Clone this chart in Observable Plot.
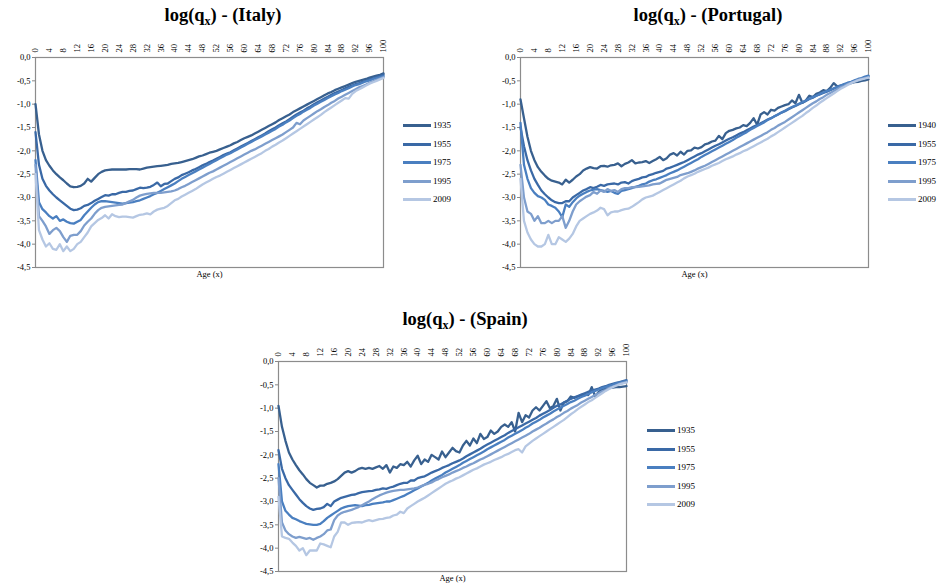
<!DOCTYPE html>
<html><head><meta charset="utf-8">
<script src="https://cdn.jsdelivr.net/npm/d3@7"></script>
<script src="https://cdn.jsdelivr.net/npm/@observablehq/plot@0.6"></script>
<style>
body{margin:0;background:#fff;width:944px;height:586px;position:relative;overflow:hidden;font-family:"Liberation Serif","Times New Roman",serif;color:#000;}
.title{position:absolute;font-weight:bold;font-size:18.5px;white-space:nowrap;transform:translateX(-50%);line-height:20px;}
.title sub{font-size:12px;vertical-align:-4px;line-height:0;}
.legrow{position:absolute;font-size:9px;line-height:10px;height:10px;white-space:nowrap;}
.legrow span.sw{position:absolute;left:0;top:4px;width:28px;height:3px;}
.legrow span.lb{position:absolute;left:30px;top:0;}
svg.panel{position:absolute;}
</style>
</head><body>
<script>
// ---------------- DATA ----------------
const ages = d3.range(0, 101); // 0..100
const xTicks = [0,4,8,12,16,20,24,28,32,36,40,44,48,52,56,60,64,68,72,76,80,84,88,92,96,100];
const yTicks = [0,-0.5,-1,-1.5,-2,-2.5,-3,-3.5,-4,-4.5];
const seriesColors = ["#38608f","#3a69a6","#4a7fc0","#7e9ecd","#b5c7e3"];

const italyYears = ["1935","1955","1975","1995","2009"];
const italy1935 = [-1.00,-1.65,-2.00,-2.20,-2.32,-2.42,-2.50,-2.57,-2.63,-2.70,
 -2.76,-2.78,-2.77,-2.75,-2.70,-2.60,-2.66,-2.58,-2.50,-2.45,
 -2.42,-2.41,-2.40,-2.40,-2.40,-2.40,-2.40,-2.39,-2.39,-2.39,
 -2.40,-2.38,-2.36,-2.35,-2.34,-2.33,-2.32,-2.31,-2.30,-2.28,
 -2.27,-2.26,-2.24,-2.22,-2.20,-2.18,-2.15,-2.12,-2.10,-2.07,
 -2.04,-2.02,-2.00,-1.97,-1.94,-1.91,-1.88,-1.84,-1.81,-1.77,
 -1.73,-1.70,-1.67,-1.63,-1.59,-1.55,-1.51,-1.47,-1.43,-1.39,
 -1.34,-1.30,-1.26,-1.22,-1.17,-1.13,-1.09,-1.05,-1.01,-0.97,
 -0.93,-0.89,-0.85,-0.81,-0.77,-0.74,-0.70,-0.67,-0.64,-0.61,
 -0.58,-0.55,-0.52,-0.50,-0.48,-0.46,-0.43,-0.41,-0.39,-0.37,-0.34];
const italy1955 = [-1.60,-2.30,-2.60,-2.75,-2.85,-2.93,-3.00,-3.06,-3.12,-3.18,
 -3.24,-3.27,-3.26,-3.23,-3.18,-3.16,-3.12,-3.07,-3.03,-2.99,
 -2.95,-2.96,-2.93,-2.93,-2.90,-2.88,-2.88,-2.86,-2.85,-2.82,
 -2.79,-2.80,-2.79,-2.77,-2.73,-2.68,-2.76,-2.71,-2.70,-2.65,
 -2.60,-2.57,-2.52,-2.49,-2.46,-2.42,-2.39,-2.35,-2.31,-2.28,
 -2.24,-2.21,-2.17,-2.13,-2.09,-2.06,-2.03,-1.99,-1.95,-1.91,
 -1.87,-1.83,-1.79,-1.75,-1.71,-1.67,-1.63,-1.58,-1.54,-1.50,
 -1.45,-1.41,-1.37,-1.32,-1.27,-1.22,-1.18,-1.14,-1.09,-1.05,
 -1.00,-0.96,-0.92,-0.88,-0.84,-0.80,-0.76,-0.73,-0.70,-0.66,
 -0.63,-0.60,-0.57,-0.55,-0.52,-0.50,-0.47,-0.45,-0.42,-0.40,-0.37];
const italy1975 = [-2.20,-3.10,-3.25,-3.32,-3.40,-3.45,-3.40,-3.50,-3.47,-3.52,
 -3.55,-3.56,-3.52,-3.48,-3.38,-3.30,-3.22,-3.15,-3.10,-3.08,
 -3.08,-3.09,-3.10,-3.11,-3.12,-3.13,-3.12,-3.11,-3.10,-3.08,
 -3.06,-3.03,-3.00,-2.97,-2.93,-2.90,-2.86,-2.82,-2.78,-2.74,
 -2.70,-2.65,-2.60,-2.56,-2.52,-2.48,-2.44,-2.40,-2.36,-2.32,
 -2.28,-2.24,-2.20,-2.16,-2.12,-2.08,-2.05,-2.01,-1.97,-1.93,
 -1.89,-1.85,-1.81,-1.77,-1.73,-1.69,-1.65,-1.61,-1.57,-1.53,
 -1.48,-1.44,-1.39,-1.35,-1.30,-1.25,-1.21,-1.16,-1.12,-1.08,
 -1.03,-0.99,-0.95,-0.91,-0.87,-0.83,-0.79,-0.76,-0.72,-0.69,
 -0.66,-0.62,-0.59,-0.57,-0.54,-0.51,-0.49,-0.46,-0.44,-0.42,-0.40];
const italy1995 = [-2.30,-3.40,-3.50,-3.62,-3.78,-3.70,-3.65,-3.72,-3.85,-3.95,
 -3.82,-3.80,-3.80,-3.72,-3.60,-3.52,-3.45,-3.35,-3.27,-3.22,
 -3.20,-3.19,-3.18,-3.17,-3.16,-3.15,-3.12,-3.08,-3.05,-3.00,
 -2.96,-2.94,-2.92,-2.91,-2.90,-2.90,-2.90,-2.89,-2.88,-2.87,
 -2.85,-2.82,-2.78,-2.75,-2.71,-2.67,-2.63,-2.59,-2.55,-2.51,
 -2.47,-2.44,-2.40,-2.36,-2.32,-2.28,-2.24,-2.20,-2.16,-2.12,
 -2.08,-2.04,-2.00,-1.97,-1.93,-1.89,-1.85,-1.81,-1.77,-1.73,
 -1.69,-1.65,-1.60,-1.55,-1.50,-1.40,-1.43,-1.35,-1.30,-1.25,
 -1.20,-1.15,-1.11,-1.06,-1.02,-0.97,-0.93,-0.88,-0.84,-0.80,
 -0.76,-0.72,-0.68,-0.64,-0.61,-0.58,-0.54,-0.51,-0.48,-0.45,-0.42];
const italy2009 = [-2.50,-3.70,-3.90,-4.05,-3.98,-4.10,-4.12,-4.00,-4.15,-4.05,
 -4.15,-4.10,-4.00,-3.95,-3.85,-3.75,-3.62,-3.55,-3.48,-3.44,
 -3.38,-3.45,-3.36,-3.40,-3.42,-3.41,-3.41,-3.42,-3.43,-3.40,
 -3.37,-3.36,-3.34,-3.36,-3.30,-3.26,-3.24,-3.22,-3.18,-3.12,
 -3.06,-3.03,-2.98,-2.94,-2.90,-2.86,-2.82,-2.77,-2.72,-2.68,
 -2.64,-2.60,-2.56,-2.53,-2.49,-2.45,-2.41,-2.37,-2.33,-2.29,
 -2.25,-2.21,-2.17,-2.13,-2.09,-2.05,-2.00,-1.96,-1.91,-1.87,
 -1.82,-1.78,-1.73,-1.68,-1.63,-1.58,-1.53,-1.48,-1.43,-1.38,
 -1.33,-1.28,-1.23,-1.17,-1.12,-1.07,-1.02,-0.97,-0.92,-0.87,
 -0.88,-0.78,-0.72,-0.68,-0.64,-0.60,-0.56,-0.53,-0.50,-0.47,-0.44];

const portugalYears = ["1940","1955","1975","1995","2009"];
const portugal1940 = [-0.90,-1.30,-1.70,-2.00,-2.20,-2.35,-2.45,-2.53,-2.60,-2.64,
 -2.66,-2.68,-2.72,-2.62,-2.68,-2.62,-2.55,-2.50,-2.42,-2.38,
 -2.35,-2.37,-2.38,-2.33,-2.32,-2.34,-2.31,-2.30,-2.27,-2.33,
 -2.28,-2.25,-2.20,-2.27,-2.25,-2.24,-2.22,-2.26,-2.22,-2.18,
 -2.13,-2.20,-2.16,-2.08,-2.05,-2.10,-2.02,-2.08,-2.00,-1.99,
 -1.93,-1.95,-1.92,-1.86,-1.84,-1.80,-1.78,-1.68,-1.75,-1.62,
 -1.57,-1.55,-1.52,-1.50,-1.45,-1.47,-1.40,-1.30,-1.44,-1.22,
 -1.17,-1.22,-1.12,-1.14,-1.08,-1.05,-1.02,-1.00,-0.92,-0.98,
 -0.80,-0.97,-0.92,-0.82,-0.85,-0.78,-0.75,-0.70,-0.72,-0.65,
 -0.55,-0.62,-0.60,-0.58,-0.56,-0.55,-0.53,-0.52,-0.50,-0.49,-0.47];
const portugal1955 = [-1.50,-1.90,-2.20,-2.42,-2.60,-2.73,-2.85,-2.93,-3.00,-3.06,
 -3.10,-3.12,-3.12,-3.08,-3.08,-3.00,-2.95,-2.90,-2.85,-2.82,
 -2.78,-2.80,-2.77,-2.73,-2.75,-2.72,-2.71,-2.70,-2.72,-2.68,
 -2.67,-2.70,-2.65,-2.62,-2.60,-2.57,-2.56,-2.52,-2.50,-2.47,
 -2.45,-2.43,-2.38,-2.36,-2.33,-2.30,-2.27,-2.24,-2.20,-2.16,
 -2.12,-2.08,-2.05,-2.01,-1.97,-1.93,-1.89,-1.86,-1.82,-1.78,
 -1.74,-1.71,-1.67,-1.63,-1.60,-1.56,-1.52,-1.48,-1.45,-1.41,
 -1.37,-1.33,-1.30,-1.26,-1.22,-1.18,-1.15,-1.11,-1.07,-1.04,
 -1.00,-0.97,-0.93,-0.89,-0.86,-0.82,-0.79,-0.76,-0.73,-0.70,
 -0.67,-0.64,-0.61,-0.58,-0.56,-0.53,-0.50,-0.48,-0.45,-0.43,-0.40];
const portugal1975 = [-1.40,-2.30,-2.60,-2.80,-2.90,-2.97,-3.00,-3.05,-3.15,-3.18,
 -3.22,-3.30,-3.42,-3.15,-3.20,-3.10,-3.02,-2.96,-2.92,-2.88,
 -2.85,-2.83,-2.82,-2.84,-2.86,-2.88,-2.86,-2.90,-2.92,-2.86,
 -2.84,-2.82,-2.80,-2.77,-2.75,-2.72,-2.70,-2.66,-2.63,-2.61,
 -2.58,-2.55,-2.52,-2.48,-2.45,-2.42,-2.38,-2.34,-2.30,-2.26,
 -2.22,-2.18,-2.13,-2.09,-2.05,-2.01,-1.97,-1.93,-1.89,-1.85,
 -1.81,-1.77,-1.72,-1.68,-1.64,-1.60,-1.55,-1.51,-1.47,-1.43,
 -1.39,-1.34,-1.30,-1.26,-1.22,-1.18,-1.14,-1.10,-1.06,-1.03,
 -0.99,-0.96,-0.92,-0.88,-0.85,-0.82,-0.78,-0.75,-0.72,-0.69,
 -0.66,-0.63,-0.60,-0.57,-0.54,-0.52,-0.49,-0.46,-0.44,-0.41,-0.39];
const portugal1995 = [-2.30,-3.00,-3.30,-3.35,-3.50,-3.40,-3.55,-3.55,-3.50,-3.55,
 -3.50,-3.50,-3.40,-3.65,-3.50,-3.30,-3.15,-3.08,-3.03,-2.98,
 -2.95,-2.88,-2.92,-2.85,-2.88,-2.82,-2.86,-2.84,-2.88,-2.82,
 -2.80,-2.80,-2.78,-2.78,-2.77,-2.76,-2.75,-2.74,-2.72,-2.71,
 -2.70,-2.66,-2.62,-2.60,-2.58,-2.56,-2.52,-2.50,-2.48,-2.45,
 -2.42,-2.38,-2.35,-2.32,-2.28,-2.24,-2.20,-2.16,-2.12,-2.08,
 -2.04,-2.00,-1.96,-1.92,-1.88,-1.84,-1.80,-1.76,-1.72,-1.68,
 -1.64,-1.60,-1.55,-1.51,-1.46,-1.42,-1.38,-1.33,-1.28,-1.23,
 -1.18,-1.13,-1.08,-1.03,-0.98,-0.94,-0.89,-0.85,-0.80,-0.76,
 -0.72,-0.68,-0.64,-0.61,-0.57,-0.54,-0.51,-0.48,-0.46,-0.44,-0.42];
const portugal2009 = [-2.60,-3.50,-3.75,-3.90,-4.00,-4.05,-4.05,-4.00,-3.80,-4.00,
 -4.00,-3.85,-3.90,-3.95,-3.88,-3.78,-3.62,-3.50,-3.45,-3.40,
 -3.35,-3.32,-3.28,-3.22,-3.25,-3.38,-3.32,-3.30,-3.30,-3.27,
 -3.25,-3.24,-3.20,-3.15,-3.10,-3.04,-3.00,-2.98,-2.96,-2.92,
 -2.88,-2.84,-2.80,-2.76,-2.72,-2.68,-2.64,-2.59,-2.55,-2.52,
 -2.49,-2.45,-2.42,-2.39,-2.36,-2.32,-2.29,-2.26,-2.22,-2.18,
 -2.15,-2.12,-2.08,-2.05,-2.01,-1.98,-1.94,-1.90,-1.86,-1.82,
 -1.78,-1.74,-1.69,-1.65,-1.60,-1.55,-1.50,-1.45,-1.40,-1.35,
 -1.30,-1.25,-1.19,-1.14,-1.08,-1.03,-0.97,-0.92,-0.87,-0.82,
 -0.77,-0.72,-0.67,-0.63,-0.59,-0.55,-0.52,-0.49,-0.47,-0.45,-0.43];

const spainYears = ["1935","1955","1975","1995","2009"];
const spain1935 = [-0.95,-1.40,-1.70,-1.95,-2.10,-2.22,-2.33,-2.42,-2.52,-2.60,
 -2.65,-2.70,-2.66,-2.66,-2.62,-2.60,-2.57,-2.52,-2.45,-2.38,
 -2.35,-2.38,-2.35,-2.30,-2.28,-2.30,-2.28,-2.30,-2.27,-2.24,
 -2.30,-2.22,-2.38,-2.25,-2.28,-2.20,-2.22,-2.15,-2.25,-2.12,
 -2.02,-2.20,-2.10,-2.15,-2.00,-2.05,-2.10,-1.93,-2.05,-1.95,
 -1.85,-1.92,-1.95,-1.80,-1.70,-1.80,-1.65,-1.75,-1.55,-1.66,
 -1.62,-1.48,-1.55,-1.50,-1.40,-1.35,-1.40,-1.30,-1.50,-1.10,
 -1.30,-1.15,-1.20,-1.05,-0.98,-1.05,-0.95,-0.85,-1.00,-0.95,
 -0.80,-1.05,-0.88,-0.85,-0.75,-0.78,-0.75,-0.72,-0.70,-0.72,
 -0.55,-0.75,-0.65,-0.60,-0.58,-0.57,-0.56,-0.55,-0.55,-0.54,-0.53];
const spain1955 = [-1.90,-2.30,-2.50,-2.65,-2.75,-2.85,-2.95,-3.03,-3.10,-3.15,
 -3.18,-3.16,-3.15,-3.12,-3.05,-3.10,-3.00,-2.96,-2.92,-2.90,
 -2.88,-2.86,-2.85,-2.82,-2.80,-2.79,-2.78,-2.77,-2.75,-2.74,
 -2.72,-2.73,-2.70,-2.68,-2.65,-2.62,-2.60,-2.60,-2.55,-2.55,
 -2.50,-2.48,-2.46,-2.42,-2.38,-2.35,-2.32,-2.28,-2.25,-2.22,
 -2.18,-2.15,-2.12,-2.08,-2.03,-1.99,-1.95,-1.91,-1.87,-1.82,
 -1.78,-1.74,-1.70,-1.66,-1.62,-1.58,-1.53,-1.49,-1.45,-1.41,
 -1.37,-1.33,-1.29,-1.25,-1.21,-1.16,-1.12,-1.08,-1.04,-0.99,
 -0.95,-0.92,-0.88,-0.84,-0.80,-0.77,-0.74,-0.71,-0.68,-0.65,
 -0.62,-0.60,-0.58,-0.55,-0.53,-0.50,-0.48,-0.46,-0.44,-0.42,-0.40];
const spain1975 = [-2.20,-3.00,-3.20,-3.28,-3.35,-3.38,-3.42,-3.45,-3.48,-3.49,
 -3.50,-3.50,-3.48,-3.42,-3.35,-3.30,-3.25,-3.20,-3.15,-3.12,
 -3.10,-3.09,-3.08,-3.09,-3.10,-3.08,-3.07,-3.05,-3.04,-3.03,
 -3.02,-3.00,-3.00,-2.97,-2.94,-2.91,-2.88,-2.84,-2.80,-2.76,
 -2.72,-2.68,-2.64,-2.60,-2.55,-2.51,-2.47,-2.43,-2.38,-2.34,
 -2.30,-2.26,-2.22,-2.17,-2.13,-2.09,-2.05,-2.01,-1.97,-1.93,
 -1.88,-1.84,-1.80,-1.76,-1.72,-1.68,-1.63,-1.59,-1.55,-1.51,
 -1.47,-1.42,-1.38,-1.33,-1.29,-1.25,-1.20,-1.16,-1.12,-1.07,
 -1.03,-0.99,-0.95,-0.91,-0.87,-0.84,-0.80,-0.76,-0.73,-0.70,
 -0.66,-0.63,-0.60,-0.57,-0.55,-0.52,-0.50,-0.47,-0.45,-0.43,-0.42];
const spain1995 = [-2.50,-3.45,-3.62,-3.70,-3.75,-3.78,-3.76,-3.78,-3.80,-3.78,
 -3.82,-3.78,-3.75,-3.70,-3.62,-3.60,-3.40,-3.30,-3.25,-3.22,
 -3.20,-3.18,-3.15,-3.12,-3.08,-3.04,-3.00,-2.95,-2.91,-2.87,
 -2.84,-2.81,-2.79,-2.77,-2.76,-2.75,-2.75,-2.74,-2.73,-2.72,
 -2.70,-2.67,-2.64,-2.62,-2.59,-2.55,-2.52,-2.48,-2.45,-2.42,
 -2.38,-2.35,-2.32,-2.28,-2.25,-2.21,-2.18,-2.14,-2.10,-2.07,
 -2.03,-1.99,-1.95,-1.91,-1.87,-1.83,-1.79,-1.75,-1.71,-1.67,
 -1.63,-1.59,-1.55,-1.50,-1.46,-1.42,-1.37,-1.33,-1.28,-1.24,
 -1.19,-1.15,-1.10,-1.06,-1.01,-0.97,-0.93,-0.88,-0.84,-0.80,
 -0.76,-0.72,-0.68,-0.64,-0.61,-0.57,-0.54,-0.51,-0.48,-0.46,-0.44];
const spain2009 = [-2.90,-3.75,-3.78,-3.80,-3.88,-3.95,-4.05,-4.00,-4.15,-4.05,
 -4.05,-4.05,-3.90,-3.92,-3.95,-3.98,-3.75,-3.65,-3.45,-3.45,
 -3.50,-3.46,-3.45,-3.44,-3.45,-3.42,-3.40,-3.42,-3.40,-3.38,
 -3.37,-3.35,-3.34,-3.30,-3.28,-3.22,-3.25,-3.15,-3.10,-3.05,
 -3.00,-2.96,-2.92,-2.87,-2.82,-2.77,-2.72,-2.67,-2.62,-2.58,
 -2.55,-2.51,-2.48,-2.44,-2.40,-2.36,-2.32,-2.29,-2.25,-2.21,
 -2.18,-2.15,-2.11,-2.08,-2.05,-2.01,-1.98,-1.94,-1.90,-1.88,
 -1.95,-1.82,-1.76,-1.70,-1.65,-1.60,-1.55,-1.50,-1.45,-1.40,
 -1.35,-1.30,-1.25,-1.19,-1.13,-1.08,-1.02,-0.97,-0.92,-0.87,
 -0.83,-0.78,-0.73,-0.68,-0.63,-0.59,-0.55,-0.52,-0.49,-0.47,-0.45];

// ---------------- DRAWING ----------------
const panels = [
  {name:"Italy", years:italyYears, series:[italy1935,italy1955,italy1975,italy1995,italy2009],
   svgLeft:0, svgTop:30, titleX:223, titleY:5, legX:403, legY:125},
  {name:"Portugal", years:portugalYears, series:[portugal1940,portugal1955,portugal1975,portugal1995,portugal2009],
   svgLeft:485, svgTop:30, titleX:708, titleY:5, legX:888, legY:125},
  {name:"Spain", years:spainYears, series:[spain1935,spain1955,spain1975,spain1995,spain2009],
   svgLeft:243, svgTop:334, titleX:465, titleY:309, legX:647, legY:430}
];
const fmt = d => d.toFixed(1).replace(".", ",");

for (const p of panels) {
  const title = document.createElement("div");
  title.className = "title";
  title.style.left = p.titleX + "px";
  title.style.top = p.titleY + "px";
  title.innerHTML = "log(q<sub>x</sub>) - (" + p.name + ")";
  document.body.appendChild(title);

  const data = [];
  p.series.forEach((vals, i) => vals.forEach((v, a) => data.push({age: ages[a], v, year: p.years[i]})));

  const chart = Plot.plot({
    width: 400, height: 255,
    marginLeft: 35, marginRight: 17, marginTop: 27, marginBottom: 18,
    style: {fontFamily: "'Liberation Serif', 'Times New Roman', serif", fontSize: "8.5px", color: "#000", background: "transparent"},
    x: {domain: [0, 100]},
    y: {domain: [-4.5, 0]},
    color: {domain: p.years, range: seriesColors},
    marks: [
      Plot.axisX({anchor: "top", ticks: xTicks, tickRotate: -90, tickSize: 0, tickPadding: 5, label: null, tickFormat: d => String(d)}),
      Plot.axisY({ticks: yTicks, tickFormat: fmt, tickSize: 3, tickPadding: 2, label: null, stroke: "#888"}),
      Plot.frame({stroke: "#8c8c8c", strokeWidth: 1.2}),
      Plot.line(data, {x: "age", y: "v", z: "year", stroke: "year", strokeWidth: 2.3, strokeLinejoin: "round", strokeLinecap: "round"}),
      Plot.text(["Age (x)"], {frameAnchor: "bottom", dy: 9, text: d => d, fontSize: 8.5})
    ]
  });
  chart.classList.add("panel");
  chart.style.left = p.svgLeft + "px";
  chart.style.top = p.svgTop + "px";
  document.body.appendChild(chart);

  p.years.forEach((y, i) => {
    const row = document.createElement("div");
    row.className = "legrow";
    row.style.left = p.legX + "px";
    row.style.top = Math.round(p.legY + i * 18.5 - 5) + "px";
    row.innerHTML = `<span class="sw" style="background:${seriesColors[i]}"></span><span class="lb">${y}</span>`;
    document.body.appendChild(row);
  });
}
</script>
</body></html>
